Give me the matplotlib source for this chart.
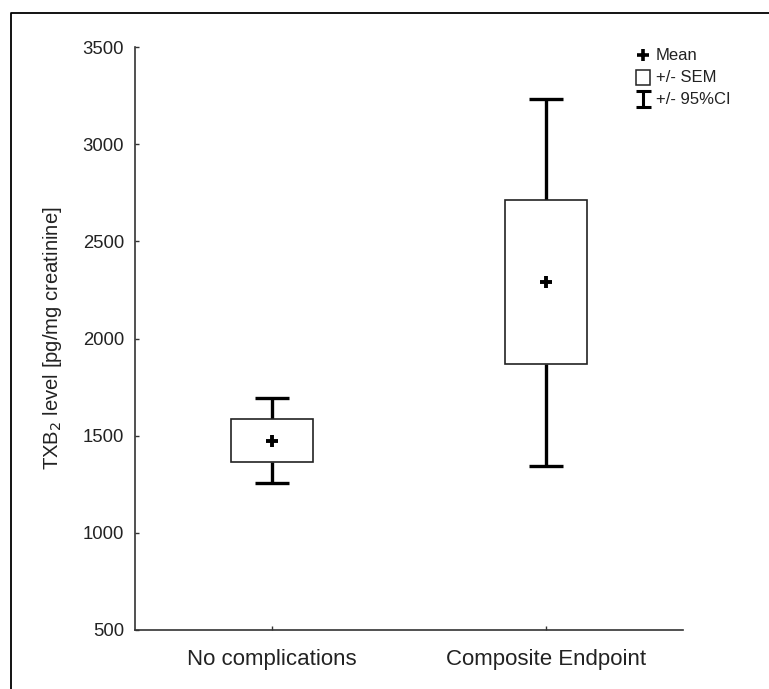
import matplotlib
matplotlib.use("Agg")
import matplotlib.pyplot as plt
from matplotlib.lines import Line2D
from matplotlib.patches import Rectangle

plt.rcParams['font.family'] = ['Liberation Sans', 'DejaVu Sans']

categories = ["No complications", "Composite Endpoint"]
mean_vals = [1471, 2291]
sem_low = [1363, 1870]
sem_high = [1584, 2713]
ci_low = [1258, 1345]
ci_high = [1692, 3233]
yticks = [500, 1000, 1500, 2000, 2500, 3000, 3500]

W, H = 769, 689
fig = plt.figure(figsize=(W / 100, H / 100), dpi=100)
ax = fig.add_axes([135 / W, 1 - 630 / H, (683 - 135) / W, (630 - 47) / H])

txt = '#222222'
xs = list(range(len(categories)))
box_w = 0.30
cap_hw = 0.063

# SEM boxes
ax.bar(xs, [h - l for h, l in zip(sem_high, sem_low)], bottom=sem_low, width=box_w,
       color='white', edgecolor='#222222', linewidth=1.2, zorder=2)
# whiskers (95% CI)
ax.vlines(xs, sem_high, ci_high, color='black', linewidth=2.4, zorder=1)
ax.vlines(xs, ci_low, sem_low, color='black', linewidth=2.4, zorder=1)
ax.hlines(ci_high, [x - cap_hw for x in xs], [x + cap_hw for x in xs], color='black', linewidth=2.4)
ax.hlines(ci_low, [x - cap_hw for x in xs], [x + cap_hw for x in xs], color='black', linewidth=2.4)
# means
ax.plot(xs, mean_vals, linestyle='none', marker='+', markersize=9, markeredgewidth=2.8,
        color='black', zorder=3)

ax.set_xlim(-0.5, 1.5)
ax.set_ylim(500, 3500)
ax.set_yticks(yticks)
ax.set_yticklabels([str(v) for v in yticks], fontsize=13.3, color=txt)
ax.set_xticks(xs)
ax.set_xticklabels(categories, fontsize=16, color=txt)
ax.tick_params(axis='both', direction='in', length=3, width=1, color='#333333')
ax.tick_params(axis='y', pad=8)
ax.tick_params(axis='x', pad=14)
for s in ['top', 'right']:
    ax.spines[s].set_visible(False)
for s in ['left', 'bottom']:
    ax.spines[s].set_linewidth(1.2)
    ax.spines[s].set_color('#333333')

ax.set_ylabel(r'TXB$_2$ level [pg/mg creatinine]', fontsize=14.6, color=txt)
ax.yaxis.set_label_coords((64 - 135) / (683 - 135), 0.5)

# legend drawn in figure pixel space
def P(x, y):
    return (x / W, 1 - y / H)

T = fig.transFigure
def fline(xs_, ys_, lw):
    pts = [P(a, b) for a, b in zip(xs_, ys_)]
    fig.add_artist(Line2D([p[0] for p in pts], [p[1] for p in pts], transform=T,
                          color='black', linewidth=lw, solid_capstyle='butt'))

# Mean
fig.add_artist(Line2D([P(643, 55)[0]], [P(643, 55)[1]], transform=T, linestyle='none',
                      marker='+', markersize=9, markeredgewidth=2.6, color='black'))
fig.text(*P(656, 55), 'Mean', fontsize=12, va='center', ha='left', color=txt)
# SEM box
x0, y0 = P(636, 85)
x1, y1 = P(650, 70)
fig.add_artist(Rectangle((x0, y0), x1 - x0, y1 - y0, transform=T, facecolor='white',
                         edgecolor='#222222', linewidth=1.1))
fig.text(*P(656, 77), '+/- SEM', fontsize=12, va='center', ha='left', color=txt)
# CI whisker
fline([643, 643], [91, 107], 2.2)
fline([636, 651], [91, 91], 2.2)
fline([636, 651], [107, 107], 2.2)
fig.text(*P(656, 99), '+/- 95%CI', fontsize=12, va='center', ha='left', color=txt)

# outer frame (top and left)
fline([11, 11, 769], [689, 13, 13], 1.3)

fig.savefig('out.png', dpi=100)
